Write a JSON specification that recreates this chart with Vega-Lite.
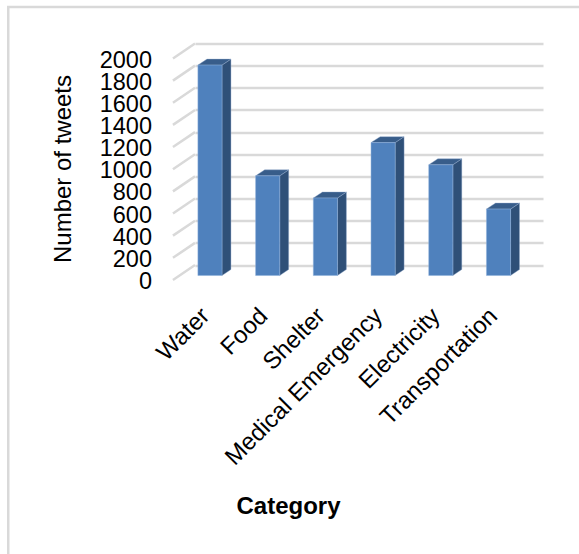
{
"$schema":"https://vega.github.io/schema/vega-lite/v6.json",
"width":348,"height":221.5,
"autosize":"none",
"padding":{"left":195,"top":43.5,"right":36,"bottom":289},
"background":"#ffffff",
"config":{"view":{"stroke":null},"font":"Liberation Sans"},
"datasets":{
"bars":[
{"category":"Water","i":0,"value":1900},
{"category":"Food","i":1,"value":900},
{"category":"Shelter","i":2,"value":700},
{"category":"Medical Emergency","i":3,"value":1200},
{"category":"Electricity","i":4,"value":1000},
{"category":"Transportation","i":5,"value":600}],
"ticks":[{"tick":0},{"tick":200},{"tick":400},{"tick":600},{"tick":800},{"tick":1000},{"tick":1200},{"tick":1400},{"tick":1600},{"tick":1800},{"tick":2000}]
},
"layer":[
{"data":{"values":[{"frame":1}]},
 "mark":{"type":"rect","fill":null,"stroke":"#D9D9D9","strokeWidth":2.5},
 "encoding":{
  "x":{"datum":-3.22,"type":"quantitative","scale":{"domain":[0,6],"nice":false},
   "axis":{"values":[0.18,1.18,2.17,3.16,4.15,5.14],"labelExpr":"['Water','Food','Shelter','Medical Emergency','Electricity','Transportation'][round(datum.value-0.15)]","labelAngle":-45,"labelAlign":"right","labelBaseline":"middle","labelFontSize":24,"labelLimit":500,"labelColor":"#000000","labelPadding":47,"labelOverlap":false,"labelBound":false,"labelFlush":false,"domain":false,"ticks":false,"grid":false,"title":"Category","titleFontSize":24,"titleFontWeight":"bold","titleColor":"#000000","titleX":93,"titleY":229,"titleAlign":"center"}},
  "x2":{"datum":8},
  "y":{"datum":2330,"type":"quantitative","scale":{"domain":[0,2000],"nice":false},
   "axis":{"values":[0,200,400,600,800,1000,1200,1400,1600,1800,2000],"format":"d","grid":true,"gridColor":"#D9D9D9","gridWidth":2.5,"domain":false,"ticks":false,"labelFontSize":23.5,"labelColor":"#000000","labelPadding":43.5,"labelOffset":16.5,"labelBaseline":"middle","labelOverlap":false,"labelBound":false,"labelFlush":false,"title":"Number of tweets","titleFontSize":24,"titleFontWeight":"normal","titleColor":"#000000","titleX":-120,"titleY":125,"titleAngle":-90,"titleAlign":"center"}},
  "y2":{"datum":-2700}
 }},
{"data":{"name":"ticks"},
 "transform":[
  {"calculate":"[-0.38,0]","as":"px"},
  {"calculate":"[datum.tick-135,datum.tick]","as":"lvl"},
  {"flatten":["px","lvl"]}],
 "mark":{"type":"line","stroke":"#D9D9D9","strokeWidth":2.5},
 "encoding":{"x":{"field":"px","type":"quantitative","axis":{"values":[0.18,1.18,2.17,3.16,4.15,5.14]}},"y":{"field":"lvl","type":"quantitative","axis":{"values":[0,200,400,600,800,1000,1200,1400,1600,1800,2000]}},"detail":{"field":"tick"}}},
{"data":{"name":"bars"},
 "transform":[
  {"calculate":"datum.value-95","as":"t"},
  {"calculate":"[datum.i*0.995+0.466,datum.i*0.995+0.62]","as":"px"},
  {"calculate":"[-95,-40]","as":"lo"},
  {"calculate":"[datum.t,datum.t+54]","as":"hi"},
  {"flatten":["px","lo","hi"]}],
 "mark":{"type":"area","fill":"#2F5078","stroke":"#8FA9CC","strokeWidth":0.4},
 "encoding":{"x":{"field":"px","type":"quantitative","axis":{"values":[0.18,1.18,2.17,3.16,4.15,5.14]}},"y":{"field":"lo","type":"quantitative","axis":{"values":[0,200,400,600,800,1000,1200,1400,1600,1800,2000]}},"y2":{"field":"hi"},"detail":{"field":"category"}}},
{"data":{"name":"bars"},
 "transform":[
  {"calculate":"datum.value-95","as":"t"},
  {"calculate":"[datum.i*0.995+0.05,datum.i*0.995+0.207,datum.i*0.995+0.466,datum.i*0.995+0.62]","as":"px"},
  {"calculate":"[datum.t,datum.t,datum.t,datum.t+54]","as":"lo"},
  {"calculate":"[datum.t,datum.t+54,datum.t+54,datum.t+54]","as":"hi"},
  {"flatten":["px","lo","hi"]}],
 "mark":{"type":"area","fill":"#385D8A","stroke":"#8FA9CC","strokeWidth":0.4},
 "encoding":{"x":{"field":"px","type":"quantitative","axis":{"values":[0.18,1.18,2.17,3.16,4.15,5.14]}},"y":{"field":"lo","type":"quantitative","axis":{"values":[0,200,400,600,800,1000,1200,1400,1600,1800,2000]}},"y2":{"field":"hi"},"detail":{"field":"category"}}},
{"data":{"name":"bars"},
 "transform":[
  {"calculate":"datum.value-95","as":"t"},
  {"calculate":"-95","as":"b"},
  {"calculate":"datum.i*0.995+0.05","as":"x0"},
  {"calculate":"datum.i*0.995+0.466","as":"x1"}],
 "mark":{"type":"rect","fill":"#4F81BD","stroke":"#8FB0DA","strokeWidth":0.5},
 "encoding":{"x":{"field":"x0","type":"quantitative","axis":{"values":[0.18,1.18,2.17,3.16,4.15,5.14]}},"x2":{"field":"x1"},"y":{"field":"t","type":"quantitative","axis":{"values":[0,200,400,600,800,1000,1200,1400,1600,1800,2000]}},"y2":{"field":"b"}}}
]
}
